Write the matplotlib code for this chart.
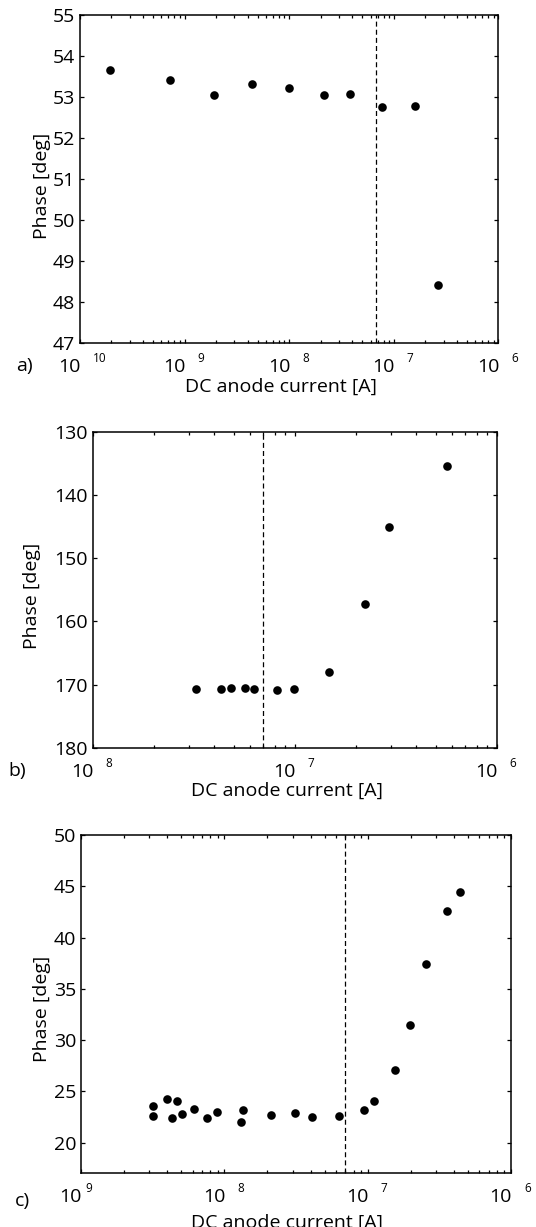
import matplotlib
matplotlib.use('Agg')
import matplotlib.pyplot as plt
import matplotlib.transforms as mtrans
from matplotlib.ticker import LogLocator, NullFormatter, FixedLocator

plt.rcParams['font.family'] = ['Open Sans', 'DejaVu Sans']

# ---------------- data ----------------
# panel a
a_current = [1.95e-10, 7.3e-10, 1.93e-9, 4.4e-9, 9.9e-9, 2.17e-8, 3.81e-8, 7.8e-8, 1.61e-7, 2.67e-7]
a_phase = [53.66, 53.42, 53.04, 53.31, 53.21, 53.04, 53.07, 52.75, 52.78, 48.42]
a_threshold = 6.84e-8
a_yticks = [47, 48, 49, 50, 51, 52, 53, 54, 55]
a_decades = [1e-10, 1e-9, 1e-8, 1e-7, 1e-6]
a_exponents = ['10', '9', '8', '7', '6']

# panel b
b_current = [3.24e-8, 4.34e-8, 4.86e-8, 5.66e-8, 6.29e-8, 8.2e-8, 9.9e-8, 1.48e-7, 2.24e-7, 2.92e-7, 5.67e-7]
b_phase = [170.6, 170.6, 170.55, 170.55, 170.6, 170.8, 170.7, 168.0, 157.3, 145.1, 135.5]
b_threshold = 6.93e-8
b_yticks = [130, 140, 150, 160, 170, 180]
b_decades = [1e-8, 1e-7, 1e-6]
b_exponents = ['8', '7', '6']

# panel c
c_current = [3.16e-9, 3.2e-9, 4.0e-9, 4.3e-9, 4.67e-9, 5.04e-9, 6.17e-9, 7.6e-9, 8.91e-9,
             1.34e-8, 1.31e-8, 2.13e-8, 3.09e-8, 4.09e-8, 6.34e-8, 9.4e-8, 1.11e-7, 1.54e-7,
             1.97e-7, 2.57e-7, 3.55e-7, 4.4e-7]
c_phase = [23.58, 22.61, 24.2, 22.38, 24.07, 22.8, 23.29, 22.35, 22.96,
           23.16, 22.05, 22.67, 22.93, 22.54, 22.6, 23.19, 24.1, 27.03,
           31.5, 37.4, 42.57, 44.43]
c_threshold = 6.92e-8
c_yticks = [20, 25, 30, 35, 40, 45, 50]
c_decades = [1e-9, 1e-8, 1e-7, 1e-6]
c_exponents = ['9', '8', '7', '6']

panel_letters = ['a)', 'b)', 'c)']
xlabel_text = 'DC anode current [A]'
ylabel_text = 'Phase [deg]'

# ---------------- figure ----------------
W, H = 536, 1227
fig = plt.figure(figsize=(W / 100, H / 100), dpi=100)
FS = 14
EFS = 8.5


def px_axes(left, right, top, bottom):
    return [left / W, 1 - bottom / H, (right - left) / W, (bottom - top) / H]


panels = [
    dict(rect=px_axes(80, 498.3, 15, 342.7), x=a_current, y=a_phase, thr=a_threshold,
         yticks=a_yticks, ylim=(47, 55), dec=a_decades, exps=a_exponents,
         exp_dx=[13] * 5, ylab=(-28.7, 0.48), xlab_dy=35, letter_xy=(16, 366)),
    dict(rect=px_axes(92.7, 496.7, 431.7, 748), x=b_current, y=b_phase, thr=b_threshold,
         yticks=b_yticks, ylim=(180, 130), dec=b_decades, exps=b_exponents,
         exp_dx=[13] * 3, ylab=(-51.7, 0.48), xlab_dy=34, letter_xy=(8.5, 771)),
    dict(rect=px_axes(81, 511, 835, 1173.3), x=c_current, y=c_phase, thr=c_threshold,
         yticks=c_yticks, ylim=(17, 50), dec=c_decades, exps=c_exponents,
         exp_dx=[4, 13, 13, 13], ylab=(-29.7, 0.485), xlab_dy=40, letter_xy=(15, 1201)),
]

for p, letter in zip(panels, panel_letters):
    ax = fig.add_axes(p['rect'])
    ax.plot(p['x'], p['y'], 'o', color='black', markersize=6.2, markeredgewidth=0)
    ax.axvline(p['thr'], color='black', lw=0.9, linestyle=(0, (4, 2.5)))
    ax.set_xscale('log')
    ax.set_xlim(p['dec'][0], p['dec'][-1])
    ax.set_ylim(*p['ylim'])
    ax.set_yticks(p['yticks'])
    ax.set_yticklabels([str(v) for v in p['yticks']])
    ax.xaxis.set_major_locator(FixedLocator(p['dec']))
    ax.xaxis.set_minor_locator(LogLocator(base=10, subs=range(2, 10), numticks=20))
    ax.xaxis.set_major_formatter(NullFormatter())
    ax.xaxis.set_minor_formatter(NullFormatter())
    ax.tick_params(which='both', direction='in', top=True, right=True, width=0.9)
    ax.tick_params(which='major', length=3.2, labelsize=FS, pad=3.5)
    ax.tick_params(which='minor', length=2.0)
    for s in ax.spines.values():
        s.set_linewidth(1.1)

    # x tick labels "10" with detached exponent
    base = mtrans.blended_transform_factory(ax.transData, ax.transAxes)
    for d, e, dx in zip(p['dec'], p['exps'], p['exp_dx']):
        ax.text(d, 0, '10', fontsize=FS, ha='right', va='top',
                transform=mtrans.offset_copy(base, fig=fig, x=1, y=-15, units='dots'))
        ax.text(d, 0, e, fontsize=EFS, ha='left', va='top',
                transform=mtrans.offset_copy(base, fig=fig, x=dx, y=-9, units='dots'))

    # axis labels
    h_px = p['rect'][3] * H
    w_px = p['rect'][2] * W
    ax.set_xlabel(xlabel_text, fontsize=FS)
    ax.xaxis.set_label_coords(0.48, -p['xlab_dy'] / h_px)
    ax.set_ylabel(ylabel_text, fontsize=FS)
    ax.yaxis.set_label_coords(p['ylab'][0] / w_px, p['ylab'][1])

    lx, ly = p['letter_xy']
    fig.text(lx / W, 1 - ly / H, letter, fontsize=FS, ha='left', va='center')

fig.savefig('out.png', dpi=100)
